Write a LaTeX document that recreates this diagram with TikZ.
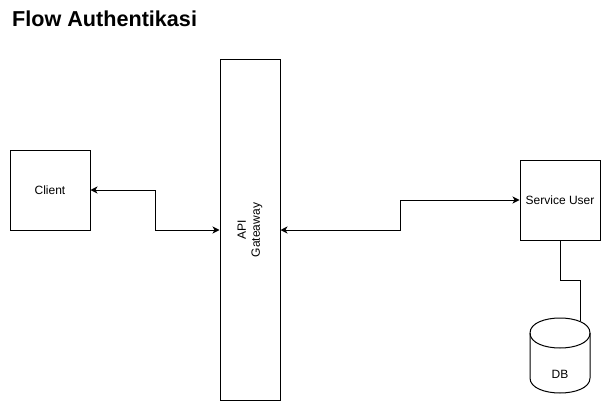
\documentclass[tikz,border=0pt]{standalone}
\usepackage{fontspec}
\setmainfont{Liberation Sans}
\usetikzlibrary{arrows.meta}
\begin{document}
\begin{tikzpicture}[x=1pt,y=-1pt,
  box/.style={draw,line width=1pt,minimum width=80pt,minimum height=80pt,inner sep=0pt,font=\fontsize{12}{14}\selectfont},
  conn/.style={line width=1pt,{Stealth[length=7pt,width=7pt,inset=2pt]}-{Stealth[length=7pt,width=7pt,inset=2pt]}},
  plain/.style={line width=1pt}]
\useasboundingbox (0,0) rectangle (601,401);
\node[anchor=base west,font=\bfseries\fontsize{21.6}{26}\selectfont,inner sep=0pt] (title) at (12,27) {Flow Authentikasi};
\node[box] (client) at (50,190) {Client};
\node[draw,line width=1pt,minimum width=60pt,minimum height=340pt,inner sep=0pt] (gw) at (250,230) {};
\node[rotate=90,align=center,font=\fontsize{12}{14}\selectfont,inner sep=0pt] (gwtext) at (250,230) {API\\Gateaway};
\node[box] (svc) at (560,200) {Service User};
% cylinder
\node[minimum width=60pt,minimum height=75pt,inner sep=0pt] (db) at (560,355.5) {};
\draw[line width=1pt] (530,333) .. controls (530,313) and (590,313) .. (590,333)
  -- (590,378) .. controls (590,398) and (530,398) .. (530,378) -- cycle;
\draw[line width=1pt] (530,333) .. controls (530,353) and (590,353) .. (590,333);
\node[font=\fontsize{12}{14}\selectfont,inner sep=0pt] (dbtext) at (560,374) {DB};
\coordinate (dbin) at (580,321);
% connectors
\draw[conn] (client.east) -- (155,190) -- (155,230) -- (gw.west);
\draw[conn] (gw.east) -- (400,230) -- (400,200) -- (svc.west);
\draw[plain] (svc.south) -- (560,280) -- (580,280) -- (dbin);
\end{tikzpicture}
\end{document}
